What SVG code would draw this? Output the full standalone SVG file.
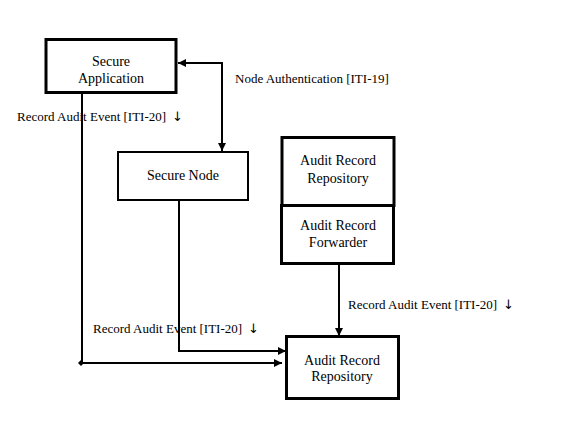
<svg xmlns="http://www.w3.org/2000/svg" width="569" height="426" viewBox="0 0 569 426">
<style>
.box{fill:#fff;stroke:#000}
.t{font-family:"Liberation Serif","Times New Roman",serif;font-size:14px;fill:#000;text-anchor:middle}
.l{font-family:"Liberation Serif","Times New Roman",serif;font-size:13px;fill:#000}
.a{font-family:"DejaVu Sans",sans-serif;font-size:13px}
.c{fill:none;stroke:#000;stroke-width:2}
</style>
<defs>
<marker id="ah" viewBox="0 0 8 8" refX="8" refY="4" markerWidth="4" markerHeight="4" orient="auto-start-reverse" markerUnits="strokeWidth">
<path d="M0,0 L8,4 L0,8 z" fill="#000"/>
</marker>
<marker id="dot" viewBox="0 0 6 6" refX="3" refY="3" markerWidth="3" markerHeight="3" markerUnits="strokeWidth">
<path d="M3,0 L6,3 L3,6 L0,3 z" fill="#000"/>
</marker>
</defs>
<rect width="569" height="426" fill="#fff"/>
<g id="connectors">
<path class="c" d="M178,63 H222 V151" marker-start="url(#ah)" marker-end="url(#ah)"/>
<path class="c" d="M82,93 V363"/>
<path class="c" d="M81,363 H282" marker-start="url(#dot)" marker-end="url(#ah)"/>
<path class="c" d="M179,200 V351 H286" marker-end="url(#ah)"/>
<path class="c" d="M339,264 V336" marker-end="url(#ah)"/>
</g>
<g id="secure-application">
<rect class="box" x="46" y="39.5" width="130" height="53" stroke-width="3"/>
<text class="t" x="111" y="66">Secure</text>
<text class="t" x="111" y="83">Application</text>
</g>
<g id="secure-node">
<rect class="box" x="118" y="152" width="130" height="48" stroke-width="2"/>
<text class="t" x="183" y="180">Secure Node</text>
</g>
<g id="audit-record-repository-top">
<rect class="box" x="282" y="137.5" width="112" height="68" stroke-width="3"/>
<text class="t" x="338" y="165">Audit Record</text>
<text class="t" x="338" y="183">Repository</text>
</g>
<g id="audit-record-forwarder">
<rect class="box" x="281.5" y="205.5" width="112" height="58" stroke-width="3"/>
<text class="t" x="338" y="230">Audit Record</text>
<text class="t" x="338" y="247">Forwarder</text>
</g>
<g id="audit-record-repository">
<rect class="box" x="286.5" y="336.5" width="112" height="62" stroke-width="3"/>
<text class="t" x="342" y="365">Audit Record</text>
<text class="t" x="342" y="381">Repository</text>
</g>
<g id="labels">
<text class="l" x="235" y="83">Node Authentication [ITI-19]</text>
<text class="l" x="17" y="121">Record Audit Event [ITI-20]<tspan class="a" dx="6">↓</tspan></text>
<text class="l" x="93" y="333">Record Audit Event [ITI-20]<tspan class="a" dx="6">↓</tspan></text>
<text class="l" x="348" y="309">Record Audit Event [ITI-20]<tspan class="a" dx="6">↓</tspan></text>
</g>
</svg>
